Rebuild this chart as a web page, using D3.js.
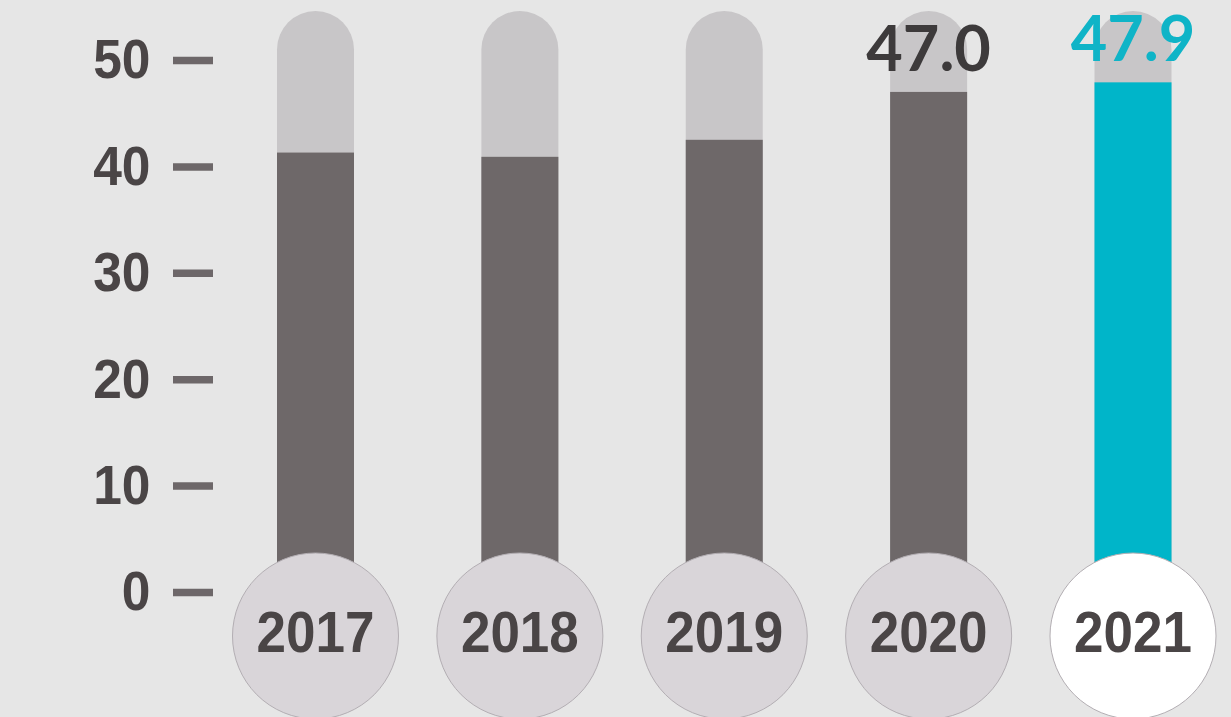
<!DOCTYPE html>
<html>
<head>
<meta charset="utf-8">
<script src="https://cdn.jsdelivr.net/npm/d3@7"></script>
<style>
  html, body { margin: 0; padding: 0; background: #e6e6e6; }
  svg { display: block; }
</style>
</head>
<body>
<svg id="chart" width="1231" height="717"></svg>
<script>
// Yearly values shown as thermometer-style bars
const years = ["2017", "2018", "2019", "2020", "2021"];
const values = [41.3, 40.9, 42.5, 47.0, 47.9];
const yTicks = [0, 10, 20, 30, 40, 50];
const labelledYears = ["2020", "2021"];
const highlightYear = "2021";
const trackMax = 54.6;

const W = 1231, H = 717;
const svg = d3.select("#chart");

svg.append("rect").attr("width", W).attr("height", H).attr("fill", "#e6e6e6");

const x = d3.scalePoint().domain(years).range([315.5, 1133]);
const y = d3.scaleLinear().domain([0, 50]).range([592, 60]);

const barW = 77;
const r = 83;
const cy = 636;

// Y axis: thick dash ticks with bold labels
const axis = d3.axisLeft(y).tickValues(yTicks).tickSize(40).tickPadding(23).tickFormat(d3.format("d"));
const gAxis = svg.append("g").attr("transform", "translate(213,0)").call(axis);
gAxis.select(".domain").remove();
gAxis.selectAll(".tick line")
  .attr("stroke", "#6d6769")
  .attr("stroke-width", 7.5);
gAxis.selectAll(".tick text")
  .attr("x", -68)
  .attr("dy", "0.32em")
  .attr("transform", "scale(0.92,1)")
  .attr("fill", "#4a4546")
  .attr("font-family", "'Liberation Sans', Arial, sans-serif")
  .attr("font-weight", "bold")
  .attr("font-size", 56);

const data = years.map((yr, i) => ({ year: yr, value: values[i] }));

// Background tracks with rounded tops
svg.append("g").selectAll("rect").data(data).join("rect")
  .attr("x", d => x(d.year) - barW / 2)
  .attr("y", y(trackMax))
  .attr("width", barW)
  .attr("height", 640 - y(trackMax))
  .attr("rx", barW / 2)
  .attr("fill", "#c8c6c8");

// Value bars
svg.append("g").selectAll("rect").data(data).join("rect")
  .attr("x", d => x(d.year) - barW / 2)
  .attr("y", d => y(d.value))
  .attr("width", barW)
  .attr("height", d => 640 - y(d.value))
  .attr("fill", d => d.year === highlightYear ? "#00b5c9" : "#6e6869");

// Value labels
svg.append("g").selectAll("text").data(data.filter(d => labelledYears.includes(d.year))).join("text")
  .attr("x", d => x(d.year))
  .attr("y", d => y(d.value) - 21)
  .attr("text-anchor", "middle")
  .attr("font-family", "Lato, sans-serif")
  .attr("font-weight", 700)
  .attr("font-size", 63)
  .attr("fill", d => d.year === highlightYear ? "#0fb4c7" : "#3d3a3b")
  .text(d => d3.format(".1f")(d.value));

// Year bulbs
const bulbs = svg.append("g").selectAll("g").data(data).join("g")
  .attr("transform", d => `translate(${x(d.year)},${cy})`);
bulbs.append("circle")
  .attr("r", r)
  .attr("fill", d => d.year === highlightYear ? "#ffffff" : "#d9d5d9")
  .attr("stroke", "#b3aeb3")
  .attr("stroke-width", 1);
bulbs.append("text")
  .attr("y", 15.5)
  .attr("text-anchor", "middle")
  .attr("transform", "scale(0.93,1)")
  .attr("font-family", "'Liberation Sans', Arial, sans-serif")
  .attr("font-weight", "bold")
  .attr("font-size", 57)
  .attr("fill", "#4a4546")
  .text(d => d.year);
</script>
</body>
</html>
